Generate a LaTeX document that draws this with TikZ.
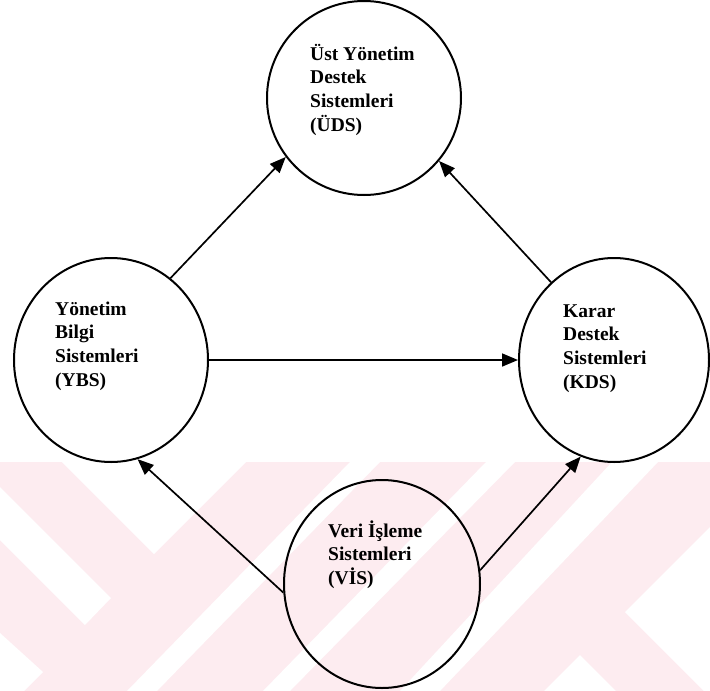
\documentclass[tikz,border=0pt]{standalone}
\usepackage{fontspec}
\setmainfont{Liberation Serif}
\usetikzlibrary{arrows.meta,shapes.geometric}
\definecolor{wmpink}{RGB}{253,236,240}
\tikzset{
  sysnode/.style={ellipse, draw, line width=2pt, inner sep=0pt},
  syslabel/.style={anchor=north west, align=left, inner sep=0pt,
    font=\bfseries\fontsize{19.5}{23.6}\selectfont},
  flow/.style={line width=1.7pt, -{Triangle[length=16pt,width=13pt]}},
  gap/.style={fill=white},
}
\newcommand{\firstline}{\rule{0pt}{19pt}}
\begin{document}
\begin{tikzpicture}[x=1pt,y=-1pt]
\useasboundingbox (0,0) rectangle (710,691);

% pale striped band along the bottom
\fill[wmpink] (0,462) rectangle (710,691);
\begin{scope}
  \clip (0,462) rectangle (710,691);
  \fill[gap] (62,462) -- (154,554) -- (246,462) -- cycle;
  \fill[gap] (0,487) -- (111,598) -- (85,625) -- (0,540) -- cycle;
  \fill[gap] (0,633) -- (43,672) -- (24,691) -- (0,691) -- cycle;
  \fill[gap] (350,462) -- (380,462) -- (157,691) -- (127,691) -- cycle;
  \fill[gap] (486,462) -- (515,462) -- (290,691) -- (263,691) -- cycle;
  \fill[gap] (612,462) -- (658,462) -- (440,691) -- (400,691) -- cycle;
  \fill[gap] (625,612) -- (710,527) -- (710,691) -- (704,691) -- cycle;
  \fill[gap] (544,691) -- (580,655) -- (616,691) -- cycle;
\end{scope}

% system circles
\node[sysnode, minimum width=194pt, minimum height=194pt] (uds) at (364,98) {};
\node[sysnode, minimum width=194pt, minimum height=204pt] (ybs) at (111,360) {};
\node[sysnode, minimum width=190pt, minimum height=204pt] (kds) at (614,360) {};
\node[sysnode, minimum width=196pt, minimum height=208pt] (vis) at (382,584) {};

% labels
\node[syslabel] (udsT) at (310,41) {\firstline Üst Yönetim\\Destek\\Sistemleri\\(ÜDS)};
\node[syslabel] (ybsT) at (55,296) {\firstline Yönetim\\Bilgi\\Sistemleri\\(YBS)};
\node[syslabel] (kdsT) at (563,298) {\firstline Karar\\Destek\\Sistemleri\\(KDS)};
\node[syslabel] (visT) at (328,518) {\firstline Veri İşleme\\Sistemleri\\(VİS)};

% information flows
\draw[flow] (ybs.54) -- (uds.217);
\draw[flow] (kds.129) -- (uds.320);
\draw[flow] (ybs.east) -- (kds.west);
\draw[flow] (vis.185) -- (ybs.285);
\draw[flow] (vis.8) -- (kds.251);
\end{tikzpicture}
\end{document}
